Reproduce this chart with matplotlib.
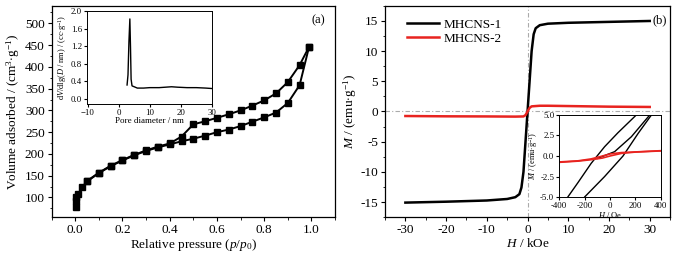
import matplotlib
matplotlib.use('Agg')
import matplotlib.pyplot as plt
import numpy as np

plt.rcParams['font.family'] = ['Liberation Serif', 'DejaVu Serif']
plt.rcParams['mathtext.fontset'] = 'custom'
plt.rcParams['mathtext.rm'] = 'Liberation Serif'
plt.rcParams['mathtext.it'] = 'Liberation Serif:italic'

# (a) N2 isotherm
p_ads = [0.001, 0.003, 0.005, 0.01, 0.03, 0.05, 0.1, 0.15, 0.2, 0.25, 0.3, 0.35, 0.4, 0.45,
         0.5, 0.55, 0.6, 0.65, 0.7, 0.75, 0.8, 0.85, 0.9, 0.95, 0.99]
v_ads = [78, 92, 100, 107, 124, 137, 156, 172, 185, 197, 207, 215, 222, 229,
         235, 242, 250, 256, 264, 274, 284, 295, 317, 358, 446]
p_des = [0.99, 0.95, 0.9, 0.85, 0.8, 0.75, 0.7, 0.65, 0.6, 0.55, 0.5, 0.45, 0.4, 0.35,
         0.3, 0.25, 0.2, 0.15, 0.1, 0.05]
v_des = [446, 404, 365, 339, 323, 311, 300, 291, 283, 275, 268, 240, 224, 217,
         208, 198, 186, 173, 157, 138]

# (a) inset: pore size distribution
pore_d = [2.7, 3.0, 3.3, 3.6, 3.8, 4.0, 4.3, 5.0, 6.0, 8.0, 10, 13, 15, 17, 19, 22, 25, 28, 30]
pore_v = [0.32, 0.55, 1.3, 1.82, 1.2, 0.45, 0.30, 0.28, 0.25, 0.25, 0.26, 0.26, 0.27, 0.28, 0.27, 0.26, 0.26, 0.25, 0.24]

# (b) magnetization curves, H in kOe
h1 = [-30, -20, -10, -5, -3, -2, -1.5, -1, -0.5, 0, 0.5, 1, 1.5, 2, 3, 5, 10, 20, 30]
m1 = [-15.1, -14.95, -14.75, -14.5, -14.2, -13.7, -12.6, -10, -5, 0, 5, 10, 12.8, 13.8, 14.3, 14.55, 14.7, 14.85, 15.0]
h2 = [-30, -20, -10, -3, -1, -0.5, 0, 0.5, 1, 3, 5, 10, 20, 30]
m2 = [-0.75, -0.8, -0.82, -0.85, -0.82, -0.6, 0, 0.6, 0.85, 0.95, 0.95, 0.9, 0.8, 0.75]

# (b) inset, H in Oe
h_desc = [420, 208, 63, -42, -148, -250, -332, -360]
m_desc = [5.8, 5.0, 2.83, 1.13, -0.9, -3.2, -5.0, -5.6]
h_asc = [-240, -200, -42, 103, 222, 327, 360]
m_asc = [-5.8, -5.0, -2.5, 0.0, 2.75, 5.0, 5.6]
h_virg = [-100, 37, 169, 314, 340]
m_virg = [-0.3, 0.53, 2.35, 5.0, 5.5]
h2_up = [-400, -250, -148, -60, 0, 90, 200, 400]
m2_up = [-0.72, -0.58, -0.35, 0.0, 0.25, 0.42, 0.5, 0.65]
h2_dn = [-400, -250, -148, -60, 0, 90, 200, 400]
m2_dn = [-0.77, -0.62, -0.45, -0.25, 0.0, 0.32, 0.48, 0.62]

fig = plt.figure(figsize=(6.98, 2.56), dpi=100)

def style(ax, size, major, minor, lw=0.9):
    ax.tick_params(which='both', direction='out', labelsize=size, top=False, right=False, pad=2)
    ax.tick_params(which='major', length=major)
    ax.tick_params(which='minor', length=minor)
    for s in ax.spines.values():
        s.set_linewidth(lw)

# ---- panel (a)
ax1 = fig.add_axes([0.074, 0.152, 0.406, 0.825])
ax1.plot(p_ads, v_ads, 'k-s', lw=1.4, ms=4)
ax1.plot(p_des, v_des, 'k-s', lw=1.4, ms=4)
ax1.set_xlim(-0.1, 1.1)
ax1.set_ylim(55, 540)
ax1.set_xticks(np.arange(0, 1.01, 0.2))
ax1.set_xticks(np.arange(-0.1, 1.11, 0.1), minor=True)
ax1.set_yticks(np.arange(100, 501, 50))
ax1.set_yticks(np.arange(75, 540, 25), minor=True)
style(ax1, 9.5, 3, 1.8)
ax1.set_xlabel('Relative pressure ($p$/$p_0$)', fontsize=9.5, labelpad=1)
ax1.set_ylabel('Volume adsorbed / (cm$^3$$\\cdot$g$^{-1}$)', fontsize=9.5, labelpad=2)
ax1.text(0.965, 0.93, '(a)', transform=ax1.transAxes, ha='right', va='center', fontsize=9)

ins1 = fig.add_axes([0.1246, 0.594, 0.179, 0.363])
ins1.plot(pore_d, pore_v, 'k-', lw=1.0)
ins1.set_xlim(-10.2, 30)
ins1.set_ylim(-0.11, 2.0)
ins1.set_xticks([-10, 0, 10, 20, 30])
ins1.set_yticks(np.arange(0, 2.01, 0.4))
style(ins1, 6.3, 2, 1, 0.7)
ins1.tick_params(pad=1.5)
ins1.set_xlabel('Pore diameter / nm', fontsize=6.5, labelpad=0)
ins1.set_ylabel('d$V$/dlg($D$ / nm) / (cc$\\cdot$g$^{-1}$)', fontsize=6, labelpad=1)

# ---- panel (b)
ax2 = fig.add_axes([0.5516, 0.152, 0.4084, 0.825])
ax2.axvline(0, color='#aaaaaa', lw=0.8, ls=(0, (4, 2, 1, 2)), zorder=0)
ax2.axhline(0, color='#aaaaaa', lw=0.8, ls=(0, (4, 2, 1, 2)), zorder=0)
ax2.plot(h1, m1, color='black', lw=1.8, label='MHCNS-1')
ax2.plot(h2, m2, color='#e8231f', lw=1.8, label='MHCNS-2')
ax2.set_xlim(-35, 35)
ax2.set_ylim(-17.5, 17.5)
ax2.set_xticks(np.arange(-30, 31, 10))
ax2.set_xticks(np.arange(-35, 36, 5), minor=True)
ax2.set_yticks(np.arange(-15, 16, 5))
ax2.set_yticks(np.arange(-17.5, 17.6, 2.5), minor=True)
ax2.set_yticklabels(['-15', '-10', '-5', '0', '5', '10', '15'])
ax2.set_xticklabels(['-30', '-20', '-10', '0', '10', '20', '30'])
style(ax2, 9.5, 3, 1.8)
ax2.set_xlabel('$H$ / kOe', fontsize=9.5, labelpad=1)
ax2.set_ylabel('$M$ / (emu$\\cdot$g$^{-1}$)', fontsize=9.5, labelpad=1)
ax2.text(0.99, 0.93, '(b)', transform=ax2.transAxes, ha='right', va='center', fontsize=9)
ax2.legend(loc='upper left', bbox_to_anchor=(0.045, 0.985), frameon=False, fontsize=9.5,
           handlelength=2.4, handletextpad=0.4, labelspacing=0.15, borderaxespad=0.3)

ins2 = fig.add_axes([0.801, 0.23, 0.1456, 0.321])
ins2.plot(h_desc, m_desc, 'k-', lw=1.0)
ins2.plot(h_asc, m_asc, 'k-', lw=1.0)
ins2.plot(h_virg, m_virg, 'k-', lw=1.0)
ins2.plot(h2_up, m2_up, color='#e8231f', lw=1.2)
ins2.plot(h2_dn, m2_dn, color='#e8231f', lw=1.2)
ins2.set_xlim(-400, 400)
ins2.set_ylim(-5, 5)
ins2.set_xticks([-400, -200, 0, 200, 400])
ins2.set_yticks([-5, -2.5, 0, 2.5, 5])
ins2.set_yticklabels(['-5.0', '-2.5', '0.0', '2.5', '5.0'])
ins2.set_xticklabels(['-400', '-200', '0', '200', '400'])
style(ins2, 6.3, 2, 1, 0.7)
ins2.tick_params(pad=1.5)
ins2.set_xlabel('$H$ / Oe', fontsize=6, labelpad=0)
ins2.set_ylabel('$M$ / (emu$\\cdot$g$^{-1}$)', fontsize=6, labelpad=0)

fig.savefig('out.png', dpi=100)
